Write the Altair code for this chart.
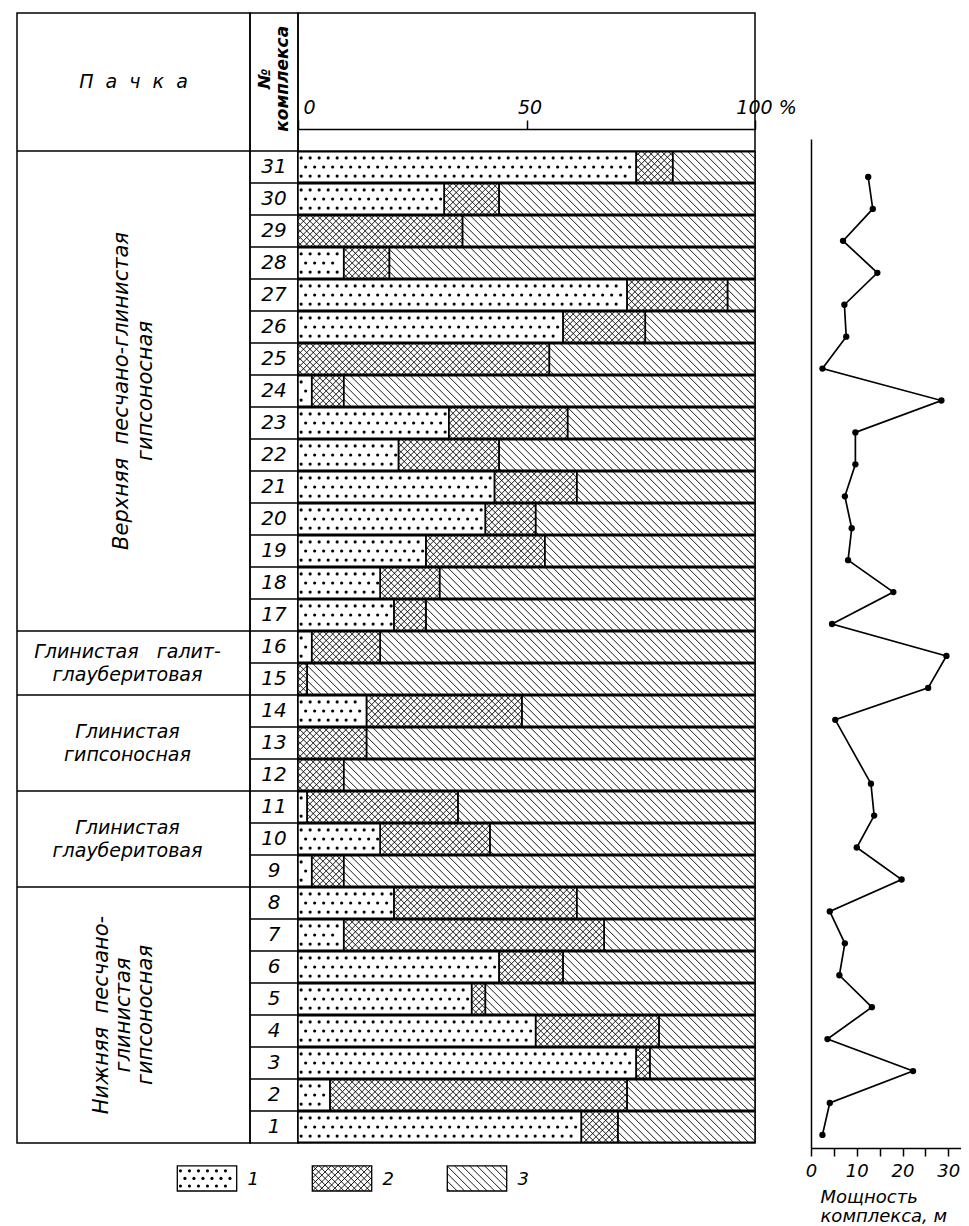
import altair as alt
import pandas as pd

# ---------------- data ----------------
rows = list(range(1, 32))
sand = [62, 7, 74, 52, 38, 44, 10, 21, 3, 18, 2, 0, 0, 15, 0, 3, 21, 18, 28, 41, 43, 22, 33, 3, 0, 58, 72, 10, 0, 32, 74]
mixed = [8, 65, 3, 27, 3, 14, 57, 40, 7, 24, 33, 10, 15, 34, 2, 15, 7, 13, 26, 11, 18, 22, 26, 7, 55, 18, 22, 10, 36, 12, 8]
clay = [30, 28, 23, 21, 59, 42, 33, 39, 90, 58, 65, 90, 85, 51, 98, 82, 72, 69, 46, 48, 39, 56, 41, 90, 45, 24, 6, 80, 64, 56, 18]
cat_codes = [1, 2, 3]
cat_labels = ["1", "2", "3"]

thick_rows = [1, 2, 3, 4, 5, 6, 7, 8, 9, 10, 11, 12, 14, 15, 16, 17, 18, 19, 20, 21, 22, 23, 24, 25, 26, 27, 28, 29, 30, 31]
thickness = [2.5, 4.1, 22.3, 3.6, 13.3, 6.2, 7.4, 4.1, 19.8, 10.0, 13.8, 13.1,
             5.3, 25.6, 29.6, 4.6, 18.0, 8.1, 8.9, 7.4, 9.7, 9.7, 28.5, 2.5, 7.7, 7.3, 14.5, 7.0, 13.5, 12.5]

pack_names = ["Верхняя\u00a0\u00a0песчано-глинистая\nгипсоносная",
              "Глинистая\u00a0\u00a0\u00a0галит-\nглауберитовая",
              "Глинистая\nгипсоносная",
              "Глинистая\nглауберитовая",
              "Нижняя\u00a0\u00a0песчано-\nглинистая\nгипсоносная"]
pack_first = [17, 15, 12, 9, 1]
pack_last = [31, 16, 14, 11, 8]
pack_rotated = [True, False, False, False, True]

pct_ticks = [0, 50, 100]
m_ticks = [0, 5, 10, 15, 20, 25, 30]

# ---------------- layout constants ----------------
FONT = "DejaVu Sans"
N = len(rows)
ROW_PX = 32
HEADER_PX = 138
Y_TOP = N + HEADER_PX / ROW_PX
HEADER_MID = (N + Y_TOP) / 2
H_TAB = N * ROW_PX + HEADER_PX
W_PACK, W_NUM, W_BAR = 233, 48, 457
PX_PCT = W_BAR / 100
INSET = 0.025
DIAG_PX = 7.5
CROSS_PX = 6.5
DOT_PX = 9.0
LEG_PX_X, LEG_PX_Y = 135, 28

y_tab = alt.Scale(domain=[0, Y_TOP], nice=False, zero=False)
x_pct = alt.Scale(domain=[0, 100], nice=False, zero=False)

pct_axis = alt.Axis(orient="top", values=pct_ticks, offset=-116, tickSize=9, tickColor="black",
                    tickWidth=1.5, domainColor="black", domainWidth=1.5, labelFont=FONT,
                    labelFontStyle="italic", labelFontSize=19, labelColor="black", labelPadding=3,
                    labelFlush=False, labelAngle=0,
                    labelExpr="datum.value == 100 ? '100 %' : datum.label",
                    labelOffset={"condition": {"test": "datum.value == 50", "value": 3}, "value": 11},
                    grid=False, title=None)


def textures(base, xscale, yscale, xaxis, px_x, px_y):
    sp3 = DIAG_PX / px_x
    sp2 = CROSS_PX / px_x
    hatch = (base.transform_filter("datum.cat != 1")
             .transform_calculate(fam="datum.cat == 3 ? [1] : [1, -1]")
             .transform_flatten(["fam"])
             .transform_calculate(H="datum.y_top - datum.y_bot",
                                  dxp=f"(datum.y_top - datum.y_bot) * {px_y} / {px_x}",
                                  sp=f"datum.cat == 3 ? {sp3} : {sp2}")
             .transform_calculate(
                 ks="sequence(floor((datum.x_start - datum.dxp) / datum.sp), ceil(datum.x_end / datum.sp) + 1)")
             .transform_flatten(["ks"])
             .transform_calculate(xk="datum.ks * datum.sp")
             .transform_calculate(u0="max(0, (datum.x_start - datum.xk) / datum.dxp)",
                                  u1="min(1, (datum.x_end - datum.xk) / datum.dxp)")
             .transform_filter("datum.u1 - datum.u0 > 0.01")
             .transform_calculate(
                 hx1="datum.xk + datum.u0 * datum.dxp",
                 hx2="datum.xk + datum.u1 * datum.dxp",
                 hy1="datum.fam == 1 ? datum.y_top - datum.u0 * datum.H : datum.y_bot + datum.u0 * datum.H",
                 hy2="datum.fam == 1 ? datum.y_top - datum.u1 * datum.H : datum.y_bot + datum.u1 * datum.H")
             .mark_rule(color="black", strokeWidth=0.9)
             .encode(x=alt.X("hx1:Q", scale=xscale, axis=xaxis, title=None), x2="hx2:Q",
                     y=alt.Y("hy1:Q", scale=yscale, axis=None), y2="hy2:Q"))
    dsp = DOT_PX / px_x
    dots = (base.transform_filter("datum.cat == 1")
            .transform_calculate(j="[0, 1, 2]")
            .transform_flatten(["j"])
            .transform_calculate(ks=f"sequence(0, ceil((datum.x_end - datum.x_start) / {dsp}) + 1)")
            .transform_flatten(["ks"])
            .transform_calculate(
                dx=f"datum.x_start + {dsp} * (datum.ks + 0.35 + 0.5 * (datum.j % 2))",
                dy="datum.y_bot + (datum.y_top - datum.y_bot) * (0.2 + 0.3 * datum.j)")
            .transform_filter(f"datum.dx < datum.x_end - {2.5 / px_x}")
            .mark_circle(color="black", size=10, opacity=1)
            .encode(x=alt.X("dx:Q", scale=xscale, axis=xaxis, title=None),
                    y=alt.Y("dy:Q", scale=yscale, axis=None)))
    return [hatch, dots]


# ---------------- panel C: stacked bars ----------------
seg_df = pd.DataFrame({
    "row": rows * 3,
    "cat": [c for c in cat_codes for _ in rows],
    "value": sand + mixed + clay,
})
bar_base = (alt.Chart(seg_df)
            .transform_filter("datum.value > 0")
            .transform_window(x_end="sum(value)", groupby=["row"],
                              sort=[alt.SortField("cat", order="ascending")])
            .transform_calculate(x_start="datum.x_end - datum.value",
                                 y_bot=f"datum.row - 1 + {INSET}",
                                 y_top=f"datum.row - {INSET}"))
bar_enc = dict(x=alt.X("x_start:Q", scale=x_pct, axis=pct_axis, title=None), x2="x_end:Q",
               y=alt.Y("y_bot:Q", scale=y_tab, axis=None), y2="y_top:Q")
bar_fill = bar_base.mark_rect(fill="white", strokeWidth=0).encode(**bar_enc)
bar_line = bar_base.mark_rect(fill="white", fillOpacity=0, stroke="black", strokeWidth=1.5).encode(**bar_enc)
head_rule_c = alt.Chart(seg_df).mark_rule(color="black", strokeWidth=1.5).encode(
    y=alt.Y("max(row):Q", scale=y_tab, axis=None))
bars_group = alt.layer(bar_fill, *textures(bar_base, x_pct, y_tab, pct_axis, PX_PCT, ROW_PX),
                       bar_line, head_rule_c)

# ---------------- legend (drawn below the table, own scales) ----------------
leg_df = pd.DataFrame({"cat": cat_codes, "label": cat_labels})
leg_x0 = 1 + 91 / LEG_PX_X
x_leg = alt.Scale(domain=[leg_x0, leg_x0 + W_BAR / LEG_PX_X], nice=False, zero=False)
leg_top = 0.05 + 1178 / LEG_PX_Y
y_leg = alt.Scale(domain=[leg_top - H_TAB / LEG_PX_Y, leg_top], nice=False, zero=False)
leg_base = alt.Chart(leg_df).transform_calculate(x_start="datum.cat - 0.22", x_end="datum.cat + 0.22",
                                                 y_bot="0.05", y_top="0.95")
leg_enc = dict(x=alt.X("x_start:Q", scale=x_leg, axis=None), x2="x_end:Q",
               y=alt.Y("y_bot:Q", scale=y_leg, axis=None), y2="y_top:Q")
leg_fill = leg_base.mark_rect(fill="white", strokeWidth=0).encode(**leg_enc)
leg_line = leg_base.mark_rect(fill="white", fillOpacity=0, stroke="black", strokeWidth=1.3).encode(**leg_enc)
leg_text = (alt.Chart(leg_df).transform_calculate(lx="datum.cat + 0.3", ly="0.45")
            .mark_text(font=FONT, fontStyle="italic", fontSize=18, align="left", color="black")
            .encode(x=alt.X("lx:Q", scale=x_leg, axis=None), y=alt.Y("ly:Q", scale=y_leg, axis=None),
                    text="label:N"))
legend_group = alt.layer(leg_fill, *textures(leg_base, x_leg, y_leg, None, LEG_PX_X, LEG_PX_Y),
                         leg_line, leg_text)

# ---------------- thickness profile (right, own scales) ----------------
th_df = pd.DataFrame({"row": thick_rows, "m": thickness})
D_LEFT = 513
x_m = alt.Scale(domain=[0, 33], range=[D_LEFT, D_LEFT + 151], nice=False, zero=False)
y_d = alt.Scale(domain=[0.59, 32.19], range=[1135, 126], nice=False, zero=False)
m_axis = alt.Axis(orient="bottom", offset=5, values=m_ticks,
                  labelExpr="datum.value % 10 == 0 ? datum.label : ''", tickSize=8,
                  tickColor="black", tickWidth=1.5, domainColor="black", domainWidth=1.5,
                  labelFont=FONT, labelFontStyle="italic", labelFontSize=18, labelColor="black",
                  labelPadding=6, labelFlush=False, labelAngle=0, grid=False,
                  title=["Мощность", "комплекса, м"], titleFont=FONT, titleFontStyle="italic",
                  titleFontWeight="normal", titleFontSize=18, titleColor="black", titleAnchor="start",
                  titleAlign="left", titleX=D_LEFT + 9, titleY=54, titleBaseline="alphabetic",
                  titleLineHeight=19)
y_axis_d = alt.Axis(orient="left", offset=-D_LEFT, domain=True, ticks=False, labels=False,
                    domainColor="black", domainWidth=1.5, grid=False, title=None)
d_enc = dict(x=alt.X("m:Q", scale=x_m, axis=m_axis), y=alt.Y("row:Q", scale=y_d, axis=y_axis_d))
d_line = alt.Chart(th_df).mark_line(color="black", strokeWidth=1.7).encode(order="row:Q", **d_enc)
d_pts = alt.Chart(th_df).mark_circle(color="black", size=40, opacity=1).encode(**d_enc)
d_group = alt.layer(d_line, d_pts)

panel_c = (alt.layer(bars_group, legend_group, d_group)
           .resolve_scale(x="independent", y="independent")
           .properties(width=W_BAR, height=H_TAB))

# ---------------- panel B: complex numbers ----------------
row_df = pd.DataFrame({"row": rows})
num_rules = alt.Chart(row_df).mark_rule(color="black", strokeWidth=1.4).encode(
    y=alt.Y("row:Q", scale=y_tab, axis=None))
num_text = (alt.Chart(row_df).transform_calculate(ym="datum.row - 0.5")
            .mark_text(font=FONT, fontStyle="italic", fontSize=20, color="black")
            .encode(y=alt.Y("ym:Q", scale=y_tab, axis=None), text="row:N"))
num_head = (alt.Chart(pd.DataFrame({"t": ["№\nкомплекса"]}))
            .mark_text(font=FONT, fontStyle="italic", fontWeight="bold", fontSize=17, angle=270,
                       lineBreak="\n", lineHeight=18, dy=-9, color="black")
            .encode(y=alt.YDatum(HEADER_MID + 0.1, type="quantitative", scale=y_tab, axis=None), text="t:N"))
panel_b = alt.layer(num_rules, num_text, num_head).properties(width=W_NUM, height=H_TAB)

# ---------------- panel A: packs ----------------
pack_df = pd.DataFrame({"idx": list(range(len(pack_names))), "name": pack_names,
                        "first": pack_first, "last": pack_last, "rot": pack_rotated})
pack_base = alt.Chart(pack_df).transform_calculate(mid="(datum.first - 1 + datum.last) / 2")
pack_rules = alt.Chart(pack_df).mark_rule(color="black", strokeWidth=1.5).encode(
    y=alt.Y("last:Q", scale=y_tab, axis=None))
pack_layers = []
for i, (name, rot) in enumerate(zip(pack_names, pack_rotated)):
    n_lines = name.count("\n") + 1
    if rot:
        lh = 24 if n_lines == 2 else 22
        shift = 0 if n_lines == 2 else -10
        props = dict(angle=270, fontSize=21, lineHeight=lh, dy=-(n_lines - 1) * lh / 2 + shift)
    else:
        lh = 23
        props = dict(fontSize=19, lineHeight=lh, dy=-(n_lines - 1) * lh / 2, dx=-6)
    pack_layers.append(
        pack_base.transform_filter(f"datum.idx == {i}")
        .mark_text(font=FONT, fontStyle="italic", lineBreak="\n", color="black", **props)
        .encode(y=alt.Y("mid:Q", scale=y_tab, axis=None), text="name:N"))
pack_head = (alt.Chart(pd.DataFrame({"t": ["П\u00a0\u00a0а\u00a0\u00a0ч\u00a0\u00a0к\u00a0\u00a0а"]}))
             .mark_text(font=FONT, fontStyle="italic", fontSize=19, color="black")
             .encode(y=alt.YDatum(HEADER_MID, type="quantitative", scale=y_tab, axis=None), text="t:N"))
panel_a = alt.layer(pack_rules, *pack_layers, pack_head).properties(width=W_PACK, height=H_TAB)

# ---------------- assemble ----------------
chart = (alt.hconcat(panel_a, panel_b, panel_c, spacing=0, bounds="flush")
         .properties(padding={"left": 7, "top": 4, "right": 0, "bottom": 0})
         .configure_view(stroke="black", strokeWidth=1.5)
         .configure_axis(grid=False))

chart.save("out.html", embed_options={"renderer": "svg", "actions": False})
